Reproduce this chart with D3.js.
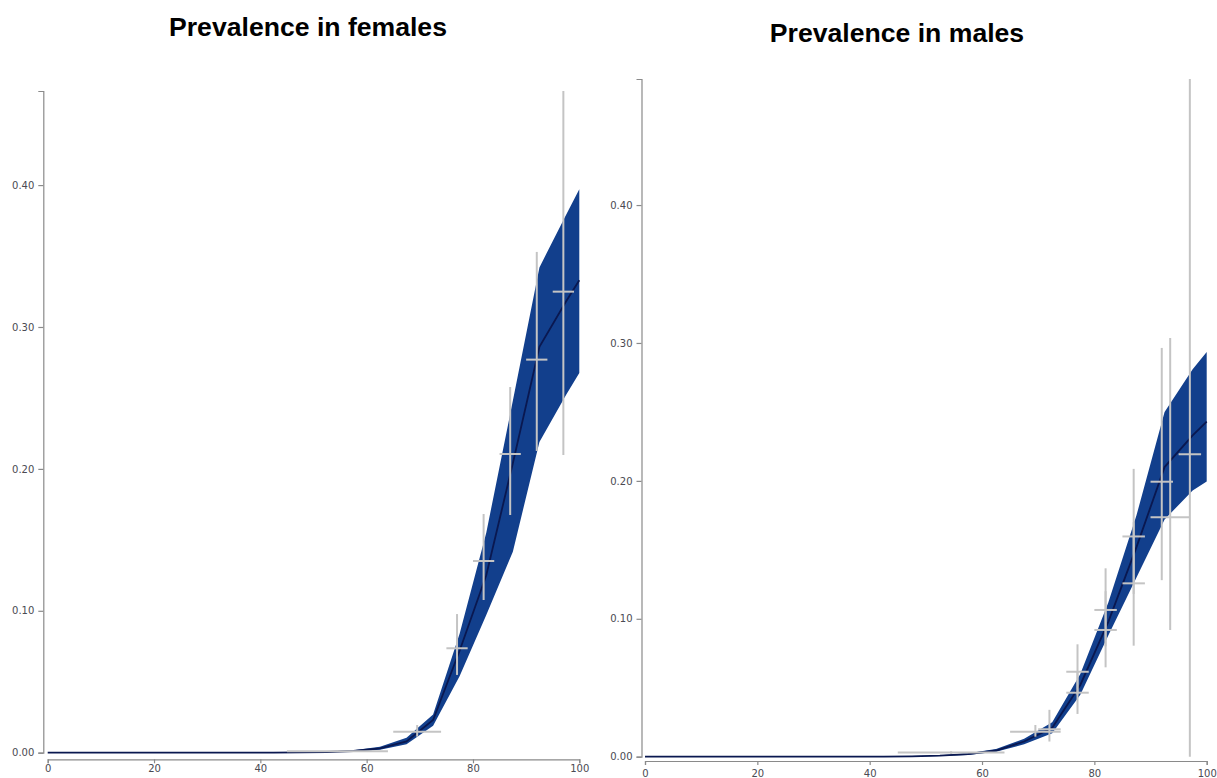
<!DOCTYPE html>
<html>
<head>
<meta charset="utf-8">
<script src="https://cdn.jsdelivr.net/npm/d3@7"></script>
<style>
  html, body { margin: 0; padding: 0; background: #fff; }
  svg { display: block; }
  .axis path, .axis line { stroke: #8a8a8a; stroke-width: 1.2; }
  .axis text { font-family: "DejaVu Sans", Verdana, sans-serif; font-size: 10px; fill: #4a4a52; }
  .title { font-family: "Liberation Sans", Arial, sans-serif; font-weight: bold; font-size: 26.6px; fill: #000; }
</style>
</head>
<body>
<svg id="chart" width="1217" height="778"></svg>
<script>
// ---- model grid (age) ----
const ages = [0, 2.5, 7.5, 12.5, 17.5, 22.5, 27.5, 32.5, 37.5, 42.5, 47.5, 52.5, 57.5, 62.5, 67.5, 72.5, 77.5, 82.5, 87.5, 92.5, 97.5, 100];

// ---- females: model mean and uncertainty band ----
const femaleMean  = [0, 0, 0, 0, 0, 0, 0, 0, 0, 0.0001, 0.0002, 0.0005, 0.0012, 0.003, 0.008, 0.023, 0.072, 0.125, 0.204, 0.286, 0.318, 0.333];
const femaleLower = [0, 0, 0, 0, 0, 0, 0, 0, 0, 0.00005, 0.0001, 0.0003, 0.0008, 0.002, 0.006, 0.019, 0.054, 0.097, 0.1416, 0.219, 0.252, 0.2676];
const femaleUpper = [0, 0, 0, 0, 0, 0, 0, 0, 0, 0.0002, 0.0004, 0.0008, 0.0018, 0.0042, 0.0105, 0.027, 0.084, 0.155, 0.248, 0.342, 0.379, 0.397];

// ---- females: observed data (crosses) ----
const femaleObsAge   = [54.5, 69.5, 77, 82, 87, 92, 97];
const femaleObsAgeLo = [45, 65, 75, 80, 85, 90, 95];
const femaleObsAgeHi = [64, 74, 79, 84, 89, 94, 99];
const femaleObsValue = [0.001, 0.0148, 0.0736, 0.1351, 0.2105, 0.277, 0.3249];
const femaleObsLo    = [0.0005, 0.0113, 0.0548, 0.1076, 0.1675, 0.2126, 0.2098];
const femaleObsHi    = [0.0015, 0.0195, 0.0977, 0.1682, 0.2577, 0.3529, 0.4663];

// ---- males: model mean and uncertainty band ----
const maleMean  = [0, 0, 0, 0, 0, 0, 0, 0, 0, 0.0001, 0.0003, 0.0008, 0.0018, 0.0045, 0.011, 0.021, 0.052, 0.098, 0.152, 0.21, 0.233, 0.243];
const maleLower = [0, 0, 0, 0, 0, 0, 0, 0, 0, 0.00005, 0.0002, 0.0005, 0.0012, 0.0035, 0.009, 0.017, 0.045, 0.088, 0.13, 0.172, 0.193, 0.1995];
const maleUpper = [0, 0, 0, 0, 0, 0, 0, 0, 0, 0.0002, 0.0005, 0.0011, 0.0025, 0.0055, 0.013, 0.025, 0.06, 0.112, 0.175, 0.25, 0.281, 0.2935];

// ---- males: observed data (crosses) ----
const maleObsAge   = [54.5, 69.5, 72, 77, 77, 82, 82, 87, 87, 92, 93.5, 97];
const maleObsAgeLo = [45, 65, 70, 75, 75, 80, 80, 85, 85, 90, 90, 95];
const maleObsAgeHi = [64, 74, 74, 79, 79, 84, 84, 89, 89, 94, 97, 99];
const maleObsValue = [0.003, 0.0181, 0.0199, 0.0616, 0.0464, 0.1064, 0.0919, 0.1597, 0.1257, 0.1994, 0.1736, 0.2193];
const maleObsLo    = [0.002, 0.0145, 0.011, 0.045, 0.031, 0.08, 0.0648, 0.118, 0.0805, 0.128, 0.0919, 0];
const maleObsHi    = [0.004, 0.023, 0.034, 0.0815, 0.062, 0.1366, 0.12, 0.2087, 0.17, 0.2964, 0.3036, 0.4914];

// ---- axis ticks ----
const xTicks = [0, 20, 40, 60, 80, 100];
const yTicks = [0, 0.1, 0.2, 0.3, 0.4];

const titles = ["Prevalence in females", "Prevalence in males"];

const svg = d3.select("#chart");

const panels = [
  { title: titles[0], mean: femaleMean, lower: femaleLower, upper: femaleUpper,
    obs: { age: femaleObsAge, lo: femaleObsAgeLo, hi: femaleObsAgeHi, v: femaleObsValue, vlo: femaleObsLo, vhi: femaleObsHi },
    x0: 47.7, x1: 579.3, yBottom: 752.7, yTop: 91, yAxisX: 43.3, xAxisY: 759.3, xPad: 2, titleX: 308, titleY: 36 },
  { title: titles[1], mean: maleMean, lower: maleLower, upper: maleUpper,
    obs: { age: maleObsAge, lo: maleObsAgeLo, hi: maleObsAgeHi, v: maleObsValue, vlo: maleObsLo, vhi: maleObsHi },
    x0: 645, x1: 1206.7, yBottom: 756.7, yTop: 79, yAxisX: 641.5, xAxisY: 761, xPad: 5, titleX: 897, titleY: 42 }
];

panels.forEach(p => {
  const x = d3.scaleLinear().domain([0, 100]).range([p.x0, p.x1]);
  const yMax = d3.max(p.obs.vhi.concat(p.upper));
  const y = d3.scaleLinear().domain([0, yMax]).range([p.yBottom, p.yTop]);

  const g = svg.append("g");

  // band
  const band = d3.area()
    .x((d, i) => x(ages[i]))
    .y0((d, i) => y(p.lower[i]))
    .y1((d, i) => y(p.upper[i]));
  g.append("path").datum(ages).attr("d", band).attr("fill", "#123f8c");

  // mean line
  const line = d3.line().x((d, i) => x(ages[i])).y((d, i) => y(p.mean[i]));
  g.append("path").datum(ages).attr("d", line)
    .attr("fill", "none").attr("stroke", "#0a1850").attr("stroke-width", 1.8);

  // crosses
  const idx = d3.range(p.obs.age.length);
  const cross = g.append("g").attr("stroke", "#c4c4c4").attr("stroke-width", 2);
  cross.selectAll("line.h").data(idx).join("line").attr("class", "h")
    .attr("x1", i => x(p.obs.lo[i])).attr("x2", i => x(p.obs.hi[i]))
    .attr("y1", i => y(p.obs.v[i])).attr("y2", i => y(p.obs.v[i]));
  cross.selectAll("line.v").data(idx).join("line").attr("class", "v")
    .attr("x1", i => x(p.obs.age[i])).attr("x2", i => x(p.obs.age[i]))
    .attr("y1", i => y(p.obs.vlo[i])).attr("y2", i => y(p.obs.vhi[i]));

  // axes
  g.append("g").attr("class", "axis")
    .attr("transform", `translate(${p.yAxisX},0)`)
    .call(d3.axisLeft(y).tickValues(yTicks).tickFormat(d3.format(".2f")).tickSize(5).tickPadding(4));
  g.append("g").attr("class", "axis")
    .attr("transform", `translate(0,${p.xAxisY})`)
    .call(d3.axisBottom(x).tickValues(xTicks).tickFormat(d3.format("d")).tickSize(4).tickPadding(p.xPad));

  svg.append("text").attr("class", "title")
    .attr("x", p.titleX).attr("y", p.titleY).attr("text-anchor", "middle").text(p.title);
});
</script>
</body>
</html>
